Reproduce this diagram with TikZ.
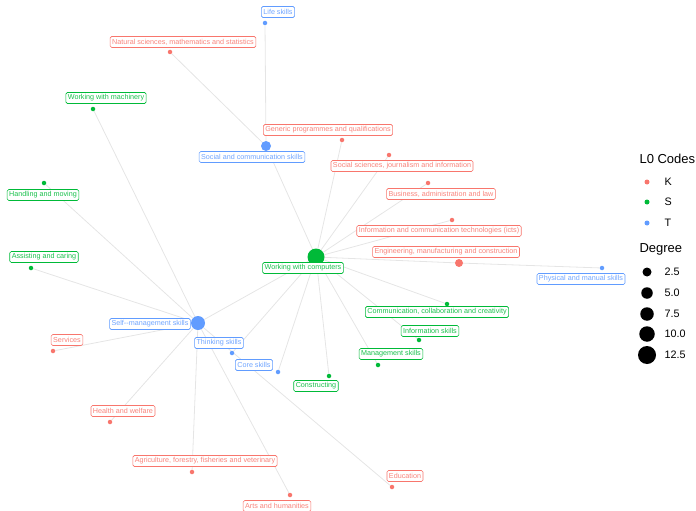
\documentclass[tikz,border=0pt]{standalone}
\usepackage{fontspec}
\setmainfont{Liberation Sans}
\usetikzlibrary{positioning,backgrounds}
\definecolor{kred}{HTML}{F8766D}
\definecolor{sgreen}{HTML}{00BA38}
\definecolor{tblue}{HTML}{619CFF}
\definecolor{edgegray}{HTML}{E5E5E5}

\begin{document}
\begin{tikzpicture}[x=1pt,y=-1pt,
  dot/.style={circle,inner sep=0pt,minimum size=4.5pt},
  kdot/.style={dot,fill=kred},
  sdot/.style={dot,fill=sgreen},
  tdot/.style={dot,fill=tblue},
  lab/.style={fill=white,rounded corners=1.5pt,line width=0.6pt,inner xsep=2pt,
    inner ysep=0pt,minimum height=11pt,font=\fontsize{7.2}{8}\selectfont},
  klab/.style={lab,draw=kred,text=kred!90},
  slab/.style={lab,draw=sgreen,text=sgreen!90},
  tlab/.style={lab,draw=tblue,text=tblue!90},
  edge/.style={draw=edgegray,line width=0.8pt},
  legtitle/.style={anchor=west,font=\fontsize{13}{15}\selectfont},
  legtext/.style={font=\fontsize{10.8}{12}\selectfont}
]
\useasboundingbox (0,0) rectangle (696,511);

% hubs
\node[sdot,minimum size=17pt] (wwc) at (316,257) {};
\node[tdot,minimum size=14pt] (selfm) at (198,323) {};
\node[tdot,minimum size=10pt] (soccom) at (266,146) {};
\node[kdot,minimum size=8pt] (eng) at (459,263) {};

% leaves
\node[tdot] (life) at (265,23) {};
\node[kdot] (natsci) at (170,52) {};
\node[sdot] (machin) at (93,109) {};
\node[kdot] (generic) at (342,140) {};
\node[kdot] (socsci) at (389,155) {};
\node[kdot] (busin) at (428,183) {};
\node[kdot] (icts) at (452,220) {};
\node[tdot] (physic) at (602,268) {};
\node[sdot] (handl) at (44,183) {};
\node[sdot] (assist) at (31,268) {};
\node[kdot] (servic) at (53,351) {};
\node[tdot] (think) at (232,353) {};
\node[tdot] (core) at (278,372) {};
\node[sdot] (commun) at (447,304) {};
\node[sdot] (inform) at (419,340) {};
\node[sdot] (manag) at (378,365) {};
\node[sdot] (constr) at (329,376) {};
\node[kdot] (health) at (110,422) {};
\node[kdot] (agri) at (192,472) {};
\node[kdot] (arts) at (290,495) {};
\node[kdot] (educ) at (392,487) {};

\begin{scope}[on background layer]
\foreach \a/\b in {life/soccom,natsci/soccom,soccom/wwc,selfm/wwc,think/wwc,
    core/wwc,constr/wwc,manag/wwc,inform/wwc,commun/wwc,eng/wwc,eng/physic,
    icts/wwc,busin/wwc,socsci/wwc,generic/wwc,machin/selfm,handl/selfm,
    assist/selfm,servic/selfm,health/selfm,agri/selfm,arts/selfm,educ/selfm}
  \draw[edge] (\a) -- (\b);
\end{scope}

% labels
\node[tlab] (life-l) at (278,12) {Life skills};
\node[klab] (natsci-l) at (183,42) {Natural sciences, mathematics and statistics};
\node[slab] (machin-l) at (106,98) {Working with machinery};
\node[klab] (generic-l) at (328,130) {Generic programmes and qualifications};
\node[tlab] (soccom-l) at (252,157) {Social and communication skills};
\node[klab] (socsci-l) at (402,166) {Social sciences, journalism and information};
\node[klab] (busin-l) at (441,194) {Business, administration and law};
\node[klab] (icts-l) at (439,231) {Information and communication technologies (icts)};
\node[klab] (eng-l) at (446,252) {Engineering, manufacturing and construction};
\node[slab] (wwc-l) at (303,268) {Working with computers};
\node[tlab] (physic-l) at (581,279) {Physical and manual skills};
\node[slab] (handl-l) at (43,195) {Handling and moving};
\node[slab] (assist-l) at (44,257) {Assisting and caring};
\node[tlab] (selfm-l) at (150,324) {Self-{}-management skills};
\node[klab] (servic-l) at (67,340) {Services};
\node[tlab] (think-l) at (219,343) {Thinking skills};
\node[tlab] (core-l) at (254,365) {Core skills};
\node[slab] (commun-l) at (437,312) {Communication, collaboration and creativity};
\node[slab] (inform-l) at (430,331) {Information skills};
\node[slab] (manag-l) at (391,354) {Management skills};
\node[slab] (constr-l) at (316,386) {Constructing};
\node[klab] (health-l) at (123,411) {Health and welfare};
\node[klab] (agri-l) at (205,461) {Agriculture, forestry, fisheries and veterinary};
\node[klab] (arts-l) at (277,506) {Arts and humanities};
\node[klab] (educ-l) at (405,476) {Education};

% legend
\node[legtitle] (codes) at (636,159) {L0 Codes};
\node[kdot,minimum size=5pt] (legk) at (647,182) {};
\node[sdot,minimum size=5pt] (legs) at (647,202) {};
\node[tdot,minimum size=5pt] (legt) at (647,223) {};
\foreach \n/\t in {legk/K,legs/S,legt/T}
  \node[legtext,anchor=west] at ([xshift=14pt]\n.center) {\t};
\node[legtitle] (degree) at (636,249) {Degree};
\foreach \n/\y/\s/\t in {d1/272/9/2.5,d2/293/11.5/5.0,d3/314/13.5/7.5,d4/334/15.5/10.0,d5/355/18/12.5}{
  \node[dot,fill=black,minimum size=\s pt] (\n) at (647,\y) {};
  \node[legtext,anchor=west] at ([xshift=14pt]\n.center) {\t};
}
\end{tikzpicture}
\end{document}
